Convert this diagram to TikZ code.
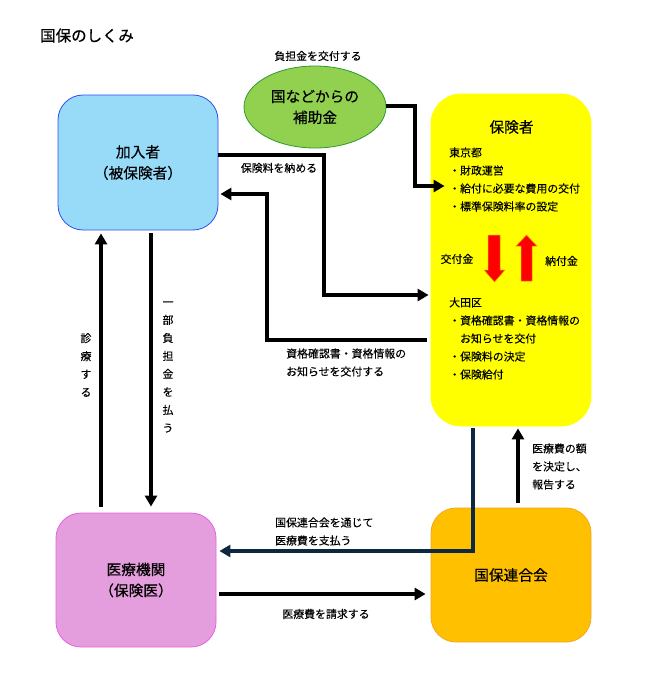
\documentclass[tikz,border=0pt]{standalone}
\usepackage{fontspec}
\setmainfont{Noto Sans CJK JP}[FakeBold=0.1]
\newfontfamily\midfont{Noto Sans CJK JP}[FakeBold=0.45]
\usetikzlibrary{arrows.meta,shapes.geometric}
\definecolor{cblue}{HTML}{97DBF9}
\definecolor{cblueline}{HTML}{2F4FF0}
\definecolor{cgreen}{HTML}{92D14F}
\definecolor{cgreenline}{HTML}{2E9A2E}
\definecolor{cyellow}{HTML}{FFFF00}
\definecolor{corange}{HTML}{FFC000}
\definecolor{corangeline}{HTML}{F5A623}
\definecolor{cpink}{HTML}{E59EDD}
\definecolor{cpinkline}{HTML}{E85FE8}
\definecolor{cnavy}{HTML}{0E2841}
\definecolor{cred}{HTML}{FF0000}
\definecolor{credline}{HTML}{F0A000}
\tikzset{
  box/.style={draw,rounded corners=#1,minimum width=160pt,align=center,inner sep=0pt,line width=0.8pt,font=\midfont\fontsize{14.7}{21}\selectfont},
  small/.style={inner sep=0pt,align=left,font=\fontsize{10.9}{18}\selectfont},
  vert/.style={inner sep=0pt,align=center,font=\fontsize{10.9}{18}\selectfont},
  flow/.style={line width=4pt,-{Triangle[length=11pt,width=12pt]},line join=miter},
  bigarrow/.style={fill=cred,draw=credline,line width=0.5pt}
}
\begin{document}
\begin{tikzpicture}[x=1pt,y=-1pt]
\useasboundingbox (0,0) rectangle (649,685);
\fill[white] (0,0) rectangle (649,685);
\node[inner sep=0pt,font=\midfont\fontsize{15.5}{18}\selectfont] (title) at (87,35.5) {国保のしくみ};
% shapes
\node[box=25pt,fill=cblue,draw=cblueline,minimum height=135pt] (kanyu) at (138,162.5) {加入者\\（被保険者）};
\node[box=30pt,fill=cyellow,draw=cyellow,minimum height=332pt] (hoken) at (511,260) {};
\node[box=25pt,fill=cpink,draw=cpinkline,minimum height=134pt] (iryo) at (136,580) {医療機関\\（保険医）};
\node[box=25pt,fill=corange,draw=corangeline,minimum height=134pt] (rengo) at (511,575) {国保連合会};
\node[ellipse,draw=cgreenline,fill=cgreen,line width=0.8pt,minimum width=142pt,minimum height=82pt,inner sep=0pt,align=center,font=\midfont\fontsize{14.7}{21}\selectfont] (kuni) at (315,107) {国などからの\\補助金};
% insurer contents
\node[inner sep=0pt,font=\midfont\fontsize{14.7}{18}\selectfont] (hokentitle) at (511.5,127) {保険者};
\node[small,anchor=west] (tokyo) at (449,179.5) {東京都\\・財政運営\\・給付に必要な費用の交付\\・標準保険料率の設定};
\node[small,anchor=west] (ota) at (449,338.5) {大田区\\・資格確認書・資格情報の\\　お知らせを交付\\・保険料の決定\\・保険給付};
\node[small] (kofu) at (457,259) {交付金};
\node[small] (nofu) at (561.5,261) {納付金};
\fill[bigarrow] (488,235) -- (500,235) -- (500,270) -- (505,270) -- (494.5,282) -- (484,270) -- (488,270) -- cycle;
\fill[bigarrow] (521,281) -- (532,281) -- (532,246) -- (537,246) -- (526.5,235) -- (516,246) -- (521,246) -- cycle;
% labels
\node[small] (l1) at (318,56) {負担金を交付する};
\node[small] (l2) at (279,168) {保険料を納める};
\node[small,anchor=west] (l3) at (286,362.5) {資格確認書・資格情報の\\お知らせを交付する};
\node[small,anchor=west] (l4) at (275,531.5) {国保連合会を通じて\\医療費を支払う};
\node[small] (l5) at (326,614) {医療費を請求する};
\node[small,anchor=west] (l6) at (532,466.5) {医療費の額\\を決定し、\\報告する};
\node[vert] (l7) at (168,367) {一\\部\\負\\担\\金\\を\\払\\う};
\node[vert] (l8) at (86,365) {診\\療\\す\\る};
% connectors
\draw[flow] ([yshift=1pt]kuni.east) -| (415,186) -- ([xshift=14pt,yshift=74pt]hoken.west);
\draw[flow] ([yshift=7.5pt]kanyu.east) -| (324,295) -- ([xshift=-2pt,yshift=-35pt]hoken.west);
\draw[flow] ([xshift=-4pt,yshift=-80pt]hoken.west) -| (267,194) -- ([xshift=2pt,yshift=-31.5pt]kanyu.east);
\draw[flow] ([xshift=-35pt,yshift=6pt]iryo.north) -- ([xshift=-37pt,yshift=-3pt]kanyu.south);
\draw[flow] ([xshift=13pt,yshift=-3pt]kanyu.south) -- ([xshift=15pt,yshift=6pt]iryo.north);
\draw[flow,draw=cnavy] ([xshift=-38pt,yshift=-2pt]hoken.south) |- ([xshift=3pt,yshift=29pt]iryo.east);
\draw[flow] ([xshift=7pt,yshift=5pt]rengo.north) -- ([xshift=7pt,yshift=-2pt]hoken.south);
\draw[flow] ([xshift=3pt,yshift=-14pt]iryo.east) -- ([xshift=-5pt,yshift=-19pt]rengo.west);
\end{tikzpicture}
\end{document}
